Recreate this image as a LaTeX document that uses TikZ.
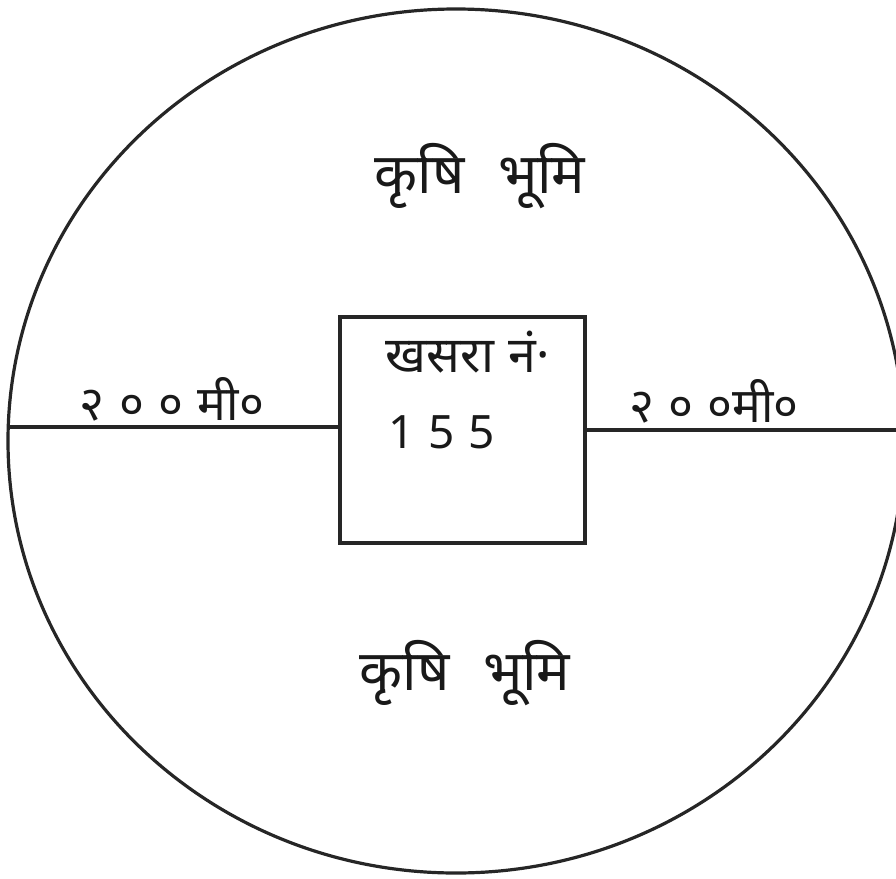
\documentclass[tikz,border=0pt]{standalone}
\usepackage{fontspec}
\newfontfamily\devfont[Script=Devanagari]{Noto Sans}
\newfontfamily\spacedfont[Script=Devanagari,LetterSpace=30]{Noto Sans}
\tikzset{
  ink/.style={draw=black!85, line width=3.2pt},
  label/.style={font=\devfont\fontsize{56}{66}\selectfont, text=black!90, inner sep=0pt},
  smalllabel/.style={label, font=\devfont\fontsize{48}{56}\selectfont},
}
\begin{document}
\begin{tikzpicture}[x=1pt,y=-1pt]
\useasboundingbox (0,0) rectangle (896,878);
% plot boundary
\draw[ink] (456,441) ellipse [x radius=448, y radius=432];
% khasra box
\node[ink, draw, minimum width=245pt, minimum height=226pt, inner sep=0pt] (box) at (462.5,430) {};
% roads / measurement lines
\coordinate (lend) at (9,427);
\coordinate (rend) at (896,430);
\draw[ink] (lend) -- (box.west |- lend);
\draw[ink] (box.east |- rend) -- (rend);
% labels
\node[label] (top) at (480,176) {कृषि\hspace{0.6em}भूमि};
\node[label] (bottom) at (465,673) {कृषि\hspace{0.6em}भूमि};
\node[smalllabel, font=\devfont\fontsize{50}{58}\selectfont] (khasra) at (468,352) {खसरा\hspace{0.3em}नं·};
\node[smalllabel, font=\spacedfont\fontsize{46}{54}\selectfont] (num) at (442,432) {155};
\node[smalllabel] (lmeas) at (172,399) {{\spacedfont २००}\hspace{0.3em}मी०};
\node[smalllabel] (rmeas) at (714,401) {{\spacedfont २००}मी०};
\end{tikzpicture}
\end{document}
